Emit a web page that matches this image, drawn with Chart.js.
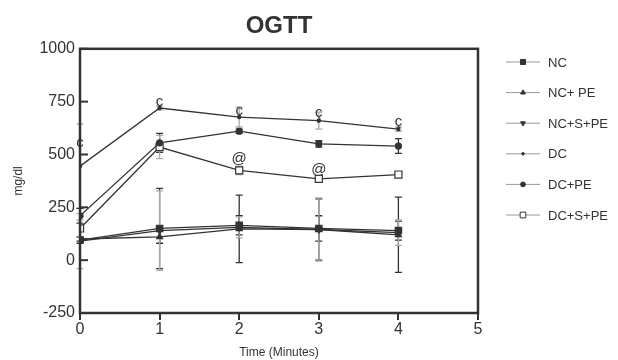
<!DOCTYPE html>
<html>
<head>
<meta charset="utf-8">
<script src="https://cdn.jsdelivr.net/npm/chart.js@4"></script>
<style>
  html, body { margin: 0; padding: 0; background: #fff; }
  #wrap { width: 618px; height: 360px; }
</style>
</head>
<body>
<div id="wrap"><canvas id="myChart"></canvas></div>
<script>
// time points (minutes)
var times = [0, 1, 2, 3, 4];
var seriesNames = ["NC", "NC+ PE", "NC+S+PE", "DC", "DC+PE", "DC+S+PE"];

// mean glucose, mg/dl
var ncVals = [95, 150, 165, 150, 140];
var ncPeVals = [100, 110, 148, 145, 120];
var ncSPeVals = [90, 140, 155, 145, 130];
var dcVals = [445, 720, 677, 660, 620];
var dcPeVals = [210, 555, 610, 550, 540];
var dcSPeVals = [150, 535, 425, 385, 405];

// error bars (SD)
var ncErr = [15, 190, 45, 60, 45];
var ncPeErr = [10, 30, 160, 145, 178];
var ncSPeErr = [130, 188, 50, 150, 60];
var dcErr = [200, 10, 47, 40, 10];
var dcPeErr = [35, 45, 10, 15, 35];
var dcSPeErr = [40, 55, 20, 10, 10];

// significance marks
var markX = [0, 1, 2, 3, 4, 2, 3];
var markY = [555, 748, 705, 695, 655, 480, 425];
var markText = ["c", "c", "\u00e7", "\u00e7", "\u00e7", "@", "@"];

var yTicks = [-250, 0, 250, 500, 750, 1000];

function pts(vals) {
    return times.map(function (t, i) { return { x: t, y: vals[i] }; });
}

var dark = '#333333';
var grey = '#aaaaaa';

var sets = [
    { label: seriesNames[0], data: pts(ncVals), err: ncErr, errColor: dark, pointStyle: 'rect', pointRadius: 4.5, pointBackgroundColor: dark },
    { label: seriesNames[1], data: pts(ncPeVals), err: ncPeErr, errColor: dark, pointStyle: 'triangle', pointRadius: 3.5, pointBackgroundColor: dark },
    { label: seriesNames[2], data: pts(ncSPeVals), err: ncSPeErr, errColor: grey, pointStyle: 'triangle', rotation: 180, pointRadius: 3.5, pointBackgroundColor: dark },
    { label: seriesNames[3], data: pts(dcVals), err: dcErr, errColor: grey, pointStyle: 'circle', pointRadius: 1.6, pointBackgroundColor: dark },
    { label: seriesNames[4], data: pts(dcPeVals), err: dcPeErr, errColor: dark, pointStyle: 'circle', pointRadius: 3, pointBackgroundColor: dark },
    { label: seriesNames[5], data: pts(dcSPeVals), err: dcSPeErr, errColor: grey, pointStyle: 'rect', pointRadius: 5, pointBackgroundColor: '#ffffff' }
];
sets.forEach(function (s) {
    s.borderColor = dark;
    s.borderWidth = 1.3;
    s.pointBorderColor = dark;
    s.pointBorderWidth = 1.2;
    s.fill = false;
    s.tension = 0;
});

// error bars, box, inner y ticks, marks and legend
var extras = {
    id: 'extras',
    beforeDatasetsDraw: function (chart) {
        var c = chart.ctx, xs = chart.scales.x, ys = chart.scales.y;
        c.save();
        c.lineWidth = 1.3;
        chart.data.datasets.forEach(function (ds) {
            c.strokeStyle = ds.errColor;
            ds.data.forEach(function (p, i) {
                var px = xs.getPixelForValue(p.x);
                var top = ys.getPixelForValue(p.y + ds.err[i]);
                var bot = ys.getPixelForValue(p.y - ds.err[i]);
                c.beginPath();
                c.moveTo(px, top); c.lineTo(px, bot);
                c.moveTo(px - 3.5, top); c.lineTo(px + 3.5, top);
                c.moveTo(px - 3.5, bot); c.lineTo(px + 3.5, bot);
                c.stroke();
            });
        });
        c.restore();
    },
    afterDraw: function (chart) {
        var c = chart.ctx, xs = chart.scales.x, ys = chart.scales.y, a = chart.chartArea;
        c.save();
        // frame
        c.strokeStyle = dark;
        c.lineWidth = 2.5;
        c.strokeRect(a.left, a.top, a.right - a.left, a.bottom - a.top);
        // y ticks pointing inward
        c.lineWidth = 2;
        yTicks.forEach(function (v) {
            var py = ys.getPixelForValue(v);
            c.beginPath(); c.moveTo(a.left, py); c.lineTo(a.left + 8, py); c.stroke();
        });
        // marks
        c.fillStyle = dark;
        c.font = '15px "Liberation Sans", Arial, sans-serif';
        c.textAlign = 'center';
        c.textBaseline = 'middle';
        markText.forEach(function (t, i) {
            c.fillText(t, xs.getPixelForValue(markX[i]), ys.getPixelForValue(markY[i]));
        });
        // legend
        c.font = '13px "Liberation Sans", Arial, sans-serif';
        c.textAlign = 'left';
        chart.data.datasets.forEach(function (ds, i) {
            var ly = 62 + i * 30.6;
            c.strokeStyle = '#999999';
            c.lineWidth = 1;
            c.beginPath(); c.moveTo(506, ly); c.lineTo(540, ly); c.stroke();
            c.fillStyle = ds.pointBackgroundColor;
            c.strokeStyle = dark;
            Chart.helpers.drawPoint(c, {
                pointStyle: ds.pointStyle, radius: ds.pointRadius * 0.8,
                rotation: ds.rotation || 0, borderWidth: 1
            }, 523, ly);
            c.fillStyle = dark;
            c.fillText(ds.label, 548, ly + 1);
        });
        c.restore();
    }
};

var ctx = document.getElementById('myChart').getContext('2d');
var chart = new Chart(ctx, {
    type: 'line',
    data: { datasets: sets },
    plugins: [extras],
    options: {
        responsive: true,
        maintainAspectRatio: false,
        animation: false,
        layout: { padding: { left: 0, right: 140, top: 0, bottom: 0 } },
        plugins: {
            legend: { display: false },
            tooltip: { enabled: false },
            title: {
                display: true,
                text: 'OGTT',
                fullSize: false,
                color: dark,
                font: { family: '"Liberation Sans", Arial, sans-serif', size: 24, weight: 'bold', lineHeight: 1.2 },
                padding: { top: 12, bottom: 8 }
            }
        },
        scales: {
            x: {
                type: 'linear',
                min: 0, max: 5,
                afterFit: function (s) { s.height = 47; },
                grid: { display: true, drawOnChartArea: false, drawTicks: true, tickLength: 7, color: dark, lineWidth: 2 },
                border: { display: false },
                ticks: { stepSize: 1, padding: 0, color: dark, font: { family: '"Liberation Sans", Arial, sans-serif', size: 16 } },
                title: { display: true, text: 'Time (Minutes)', color: dark, padding: 0, font: { family: '"Liberation Sans", Arial, sans-serif', size: 12 } }
            },
            y: {
                min: -250, max: 1000,
                afterFit: function (s) { s.width = 80; },
                afterBuildTicks: function (s) { s.ticks = yTicks.map(function (v) { return { value: v }; }); },
                grid: { display: false, drawTicks: false },
                border: { display: false },
                ticks: {
                    padding: 5, color: dark,
                    font: { family: '"Liberation Sans", Arial, sans-serif', size: 16 },
                    callback: function (v) { return String(v); }
                },
                title: { display: true, text: 'mg/dl', color: dark, padding: { top: 11, bottom: 0 }, font: { family: '"Liberation Sans", Arial, sans-serif', size: 12 } }
            }
        }
    }
});
</script>
</body>
</html>
